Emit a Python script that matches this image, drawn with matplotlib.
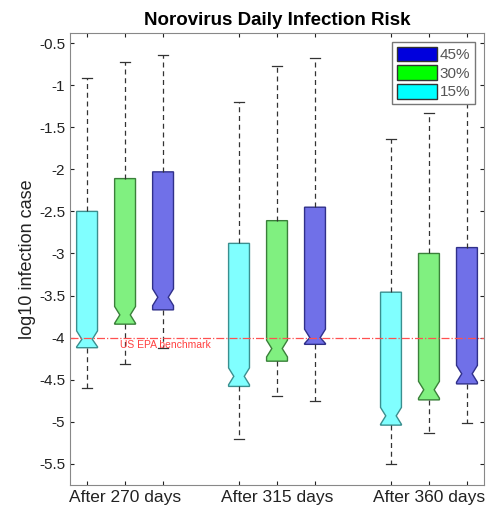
import matplotlib.pyplot as plt
from matplotlib.patches import Patch

plt.rcParams['font.family'] = ['Liberation Sans', 'DejaVu Sans']

# box positions: three groups of three boxes (15%, 30%, 45%)
positions = [1, 2, 3, 5, 6, 7, 9, 10, 11]
whislo = [-4.60, -4.31, -4.12, -5.21, -4.69, -4.75, -5.50, -5.13, -5.02]
q1 = [-4.12, -3.84, -3.67, -4.58, -4.28, -4.08, -5.04, -4.74, -4.55]
med = [-4.02, -3.73, -3.52, -4.46, -4.13, -4.00, -4.93, -4.62, -4.43]
q3 = [-2.50, -2.11, -2.03, -2.88, -2.61, -2.45, -3.46, -3.00, -2.93]
whishi = [-0.91, -0.72, -0.64, -1.20, -0.77, -0.68, -1.64, -1.33, -1.10]

group_labels = ['After 270 days', 'After 315 days', 'After 360 days']
group_centers = [2, 6, 10]
series = ['15%', '30%', '45%']
face = ['#80ffff', '#80f080', '#7070e8']
edge = ['#3a8f8f', '#3a803a', '#30308a']
legend_face = ['#00ffff', '#00ff00', '#0000dd']
benchmark = -4.0

fig = plt.figure(figsize=(4.86, 5.12), dpi=100)
ax = fig.add_axes([0.144, 0.053, 0.852, 0.8825])

stats = []
for i in range(len(positions)):
    nh = 0.1
    stats.append(dict(med=med[i], q1=q1[i], q3=q3[i], whislo=whislo[i], whishi=whishi[i],
                      cilo=max(q1[i] + 0.01, med[i] - nh), cihi=med[i] + nh, fliers=[]))

bp = ax.bxp(stats, positions=positions, widths=0.55, shownotches=True, patch_artist=True,
            showfliers=False, manage_ticks=False,
            whiskerprops=dict(color='#333333', linestyle=(0, (4, 3)), lw=0.9),
            capprops=dict(color='#333333', lw=0.9),
            medianprops=dict(lw=0))
for i, b in enumerate(bp['boxes']):
    k = i % 3
    b.set_facecolor(face[k])
    b.set_edgecolor(edge[k])
    b.set_linewidth(1.0)

ax.axhline(benchmark, color='#ff5050', ls='-.', lw=0.9)
ax.text(1.87, benchmark - 0.03, 'US EPA benchmark', color='#ff4040', fontsize=7.5, va='top')

ax.set_xlim(0.55, 11.45)
ax.set_ylim(-5.75, -0.38)
ax.set_yticks([-0.5, -1, -1.5, -2, -2.5, -3, -3.5, -4, -4.5, -5, -5.5])
ax.set_yticklabels(['-0.5', '-1', '-1.5', '-2', '-2.5', '-3', '-3.5', '-4', '-4.5', '-5', '-5.5'])
ax.set_xticks(positions)
ax.set_xticklabels([''] * len(positions))
for c, lab in zip(group_centers, group_labels):
    ax.text(c, -5.81, lab, ha='center', va='top', fontsize=12.5, color='#222222')
ax.tick_params(direction='in', top=True, right=True, length=3, labelsize=11,
               colors='#222222')
for s in ax.spines.values():
    s.set_color('#888888')

ax.set_ylabel('log10 infection case', fontsize=13, color='#222222', labelpad=2)
ax.set_title('Norovirus Daily Infection Risk', fontsize=13.5, fontweight='bold', pad=6)

handles = [Patch(facecolor=legend_face[k], edgecolor='#333333') for k in [2, 1, 0]]
leg = ax.legend(handles, [series[k] for k in [2, 1, 0]], loc='upper right', fontsize=11,
                fancybox=False, edgecolor='#777777', framealpha=1, handlelength=2.6,
                handleheight=1.1, borderaxespad=0.6, labelspacing=0.2, handletextpad=0.2,
                borderpad=0.3)
for t in leg.get_texts():
    t.set_color('#555555')

fig.savefig('out.png', dpi=100)
